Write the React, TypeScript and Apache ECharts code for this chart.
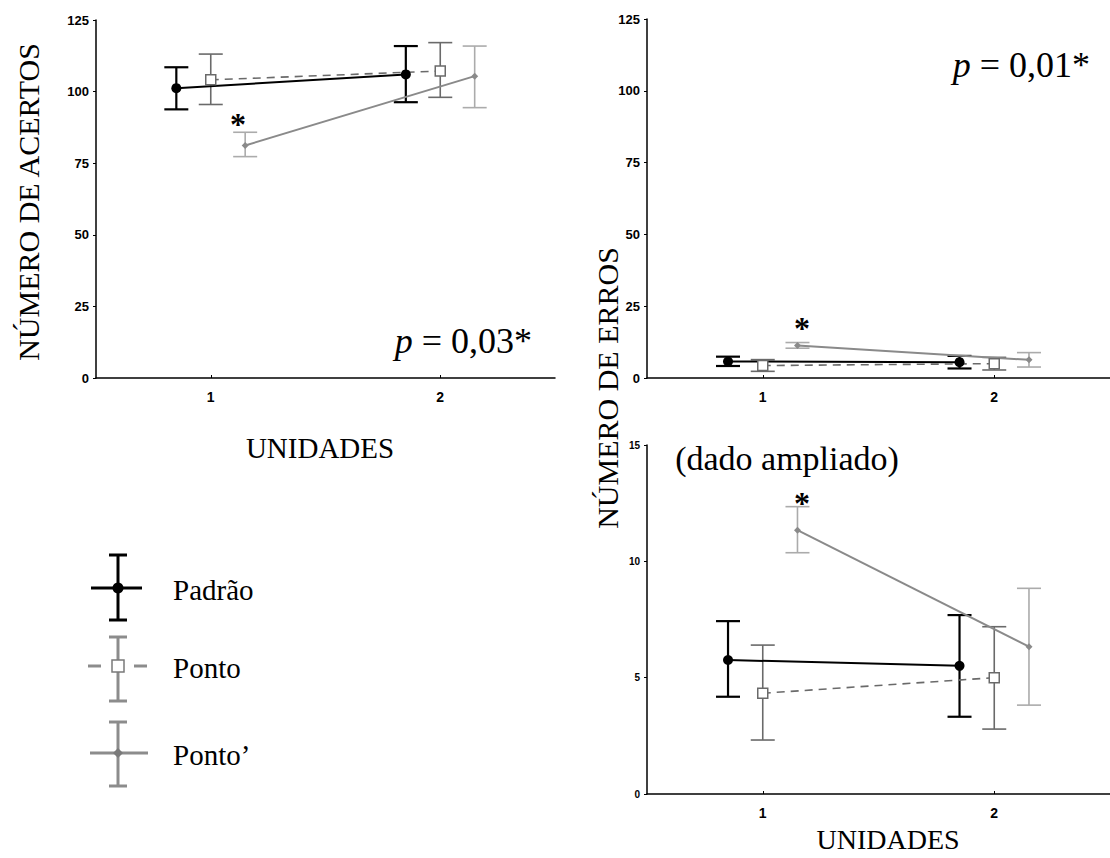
import React, { useEffect, useRef } from 'react';
import * as echarts from 'echarts';

// ---------- data ----------
const units = [1, 2];
const groupNames = ['Padrão', 'Ponto', 'Ponto’'];
const groupOffsets = [-0.15, 0, 0.15];

// Número de acertos (mean, lower, upper)
const acertosPadraoMean = [101.2, 106.0];
const acertosPadraoLow = [93.8, 96.3];
const acertosPadraoHigh = [108.5, 115.9];
const acertosPontoMean = [104.1, 107.2];
const acertosPontoLow = [95.5, 98.0];
const acertosPontoHigh = [113.1, 117.1];
const acertosPontoLinhaMean = [81.2, 105.4];
const acertosPontoLinhaLow = [77.3, 94.4];
const acertosPontoLinhaHigh = [85.8, 115.9];

// Número de erros (mean, lower, upper)
const errosPadraoMean = [5.76, 5.51];
const errosPadraoLow = [4.18, 3.32];
const errosPadraoHigh = [7.43, 7.69];
const errosPontoMean = [4.33, 5.0];
const errosPontoLow = [2.32, 2.79];
const errosPontoHigh = [6.4, 7.19];
const errosPontoLinhaMean = [11.34, 6.33];
const errosPontoLinhaLow = [10.37, 3.82];
const errosPontoLinhaHigh = [12.35, 8.84];

const pAcertos = '0,03*';
const pErros = '0,01*';

const SERIF = '"Liberation Serif", "Times New Roman", serif';
const SANS = '"Liberation Sans", Arial, sans-serif';

const C_PADRAO = '#000000';
const C_PONTO = '#6a6a6a';
const C_PONTOL_LINE = '#8a8a8a';
const C_PONTOL_BAR = '#ababab';

const xsFor = (g: number) => units.map((u) => u + groupOffsets[g]);

function errBars(axis: number, g: number, lo: number[], hi: number[], color: string, width: number) {
  const xs = xsFor(g);
  return {
    type: 'custom',
    name: groupNames[g] + ' IC',
    xAxisIndex: axis,
    yAxisIndex: axis,
    data: xs.map((x, i) => [x, lo[i], hi[i]]),
    encode: { x: 0, y: [1, 2] },
    z: 2,
    silent: true,
    renderItem: (_p: any, api: any) => {
      const x = api.value(0);
      const a = api.coord([x, api.value(2)]);
      const b = api.coord([x, api.value(1)]);
      const hw = 12;
      const st = { stroke: color, lineWidth: width, fill: null };
      return {
        type: 'group',
        children: [
          { type: 'line', shape: { x1: a[0], y1: a[1], x2: b[0], y2: b[1] }, style: st },
          { type: 'line', shape: { x1: a[0] - hw, y1: a[1], x2: a[0] + hw, y2: a[1] }, style: st },
          { type: 'line', shape: { x1: b[0] - hw, y1: b[1], x2: b[0] + hw, y2: b[1] }, style: st },
        ],
      };
    },
  };
}

function meanLine(axis: number, g: number, ys: number[]) {
  const xs = xsFor(g);
  const data = xs.map((x, i) => [x, ys[i]]);
  const base: any = {
    type: 'line',
    name: groupNames[g],
    xAxisIndex: axis,
    yAxisIndex: axis,
    data,
    z: 5,
    silent: true,
  };
  if (g === 0) {
    return { ...base, symbol: 'circle', symbolSize: 10, itemStyle: { color: C_PADRAO }, lineStyle: { color: C_PADRAO, width: 2 } };
  }
  if (g === 1) {
    return {
      ...base,
      symbol: 'rect',
      symbolSize: 10,
      itemStyle: { color: '#ffffff', borderColor: C_PONTO, borderWidth: 1.5 },
      lineStyle: { color: C_PONTO, width: 1.6, type: [8, 6] },
    };
  }
  return { ...base, symbol: 'diamond', symbolSize: 7, itemStyle: { color: C_PONTOL_LINE }, lineStyle: { color: C_PONTOL_LINE, width: 2 } };
}

function xAxisFor(grid: number, labelSize: number) {
  return {
    type: 'value',
    gridIndex: grid,
    min: 0.5,
    max: 2.5,
    interval: 0.5,
    splitLine: { show: false },
    axisLine: { show: true, onZero: false, lineStyle: { color: '#000', width: 1.5 } },
    axisTick: { show: true, inside: true, length: 3, customValues: units, lineStyle: { color: '#000' } },
    axisLabel: {
      customValues: units,
      formatter: (v: number) => (Number.isInteger(v) ? String(v) : ''),
      fontFamily: SANS,
      fontWeight: 'bold',
      fontSize: labelSize,
      color: '#000',
      margin: 12,
    },
  };
}

function yAxisFor(grid: number, max: number, interval: number, labelSize: number) {
  return {
    type: 'value',
    gridIndex: grid,
    min: 0,
    max,
    interval,
    splitLine: { show: false },
    axisLine: { show: true, lineStyle: { color: '#000', width: 1.5 } },
    axisTick: { show: true, length: 3, lineStyle: { color: '#000' } },
    axisLabel: { fontFamily: SANS, fontWeight: 'bold', fontSize: labelSize, color: '#000', margin: 7 },
  };
}

function txt(x: number, y: number, text: string, size: number, extra: any = {}) {
  return {
    type: 'text',
    x,
    y,
    ...extra.el,
    style: {
      text,
      fontFamily: SERIF,
      fontSize: size,
      fill: '#000',
      align: 'center',
      verticalAlign: 'middle',
      ...extra.style,
    },
  };
}

function pText(xRight: number, y: number, val: string) {
  return {
    type: 'text',
    x: xRight,
    y,
    style: {
      text: '{i|p}{n| = ' + val + '}',
      align: 'right',
      verticalAlign: 'middle',
      rich: {
        i: { fontFamily: SERIF, fontStyle: 'italic', fontSize: 36, fill: '#000' },
        n: { fontFamily: SERIF, fontSize: 36, fill: '#000' },
      },
    },
  };
}

function star(x: number, y: number) {
  return txt(x, y, '*', 32, { style: { fontWeight: 'bold' } });
}

function legendItem(cy: number, top: number, bottom: number, g: number) {
  const cx = 118;
  const color = g === 0 ? '#000' : '#8c8c8c';
  const st = { stroke: color, lineWidth: 3 };
  const kids: any[] = [
    { type: 'line', shape: { x1: cx, y1: top, x2: cx, y2: bottom }, style: st },
    { type: 'line', shape: { x1: cx - 9, y1: top, x2: cx + 9, y2: top }, style: st },
    { type: 'line', shape: { x1: cx - 9, y1: bottom, x2: cx + 9, y2: bottom }, style: st },
  ];
  if (g === 0) {
    kids.push({ type: 'line', shape: { x1: cx - 27, y1: cy, x2: cx + 24, y2: cy }, style: st });
    kids.push({ type: 'circle', shape: { cx, cy, r: 5.5 }, style: { fill: '#000' } });
  } else if (g === 1) {
    kids.push({ type: 'line', shape: { x1: cx - 30, y1: cy, x2: cx - 17, y2: cy }, style: st });
    kids.push({ type: 'line', shape: { x1: cx + 16, y1: cy, x2: cx + 29, y2: cy }, style: st });
    kids.push({ type: 'rect', shape: { x: cx - 6, y: cy - 6, width: 12, height: 12 }, style: { fill: '#fff', stroke: '#7a7a7a', lineWidth: 1.5 } });
  } else {
    kids.push({ type: 'line', shape: { x1: cx - 28, y1: cy, x2: cx + 30, y2: cy }, style: st });
    kids.push({ type: 'polygon', shape: { points: [[cx, cy - 5], [cx + 5, cy], [cx, cy + 5], [cx - 5, cy]] }, style: { fill: '#7a7a7a' } });
  }
  kids.push({
    type: 'text',
    x: 173,
    y: cy + 2,
    style: { text: groupNames[g], fontFamily: SERIF, fontSize: 29, fill: '#000', align: 'left', verticalAlign: 'middle' },
  });
  return { type: 'group', children: kids };
}

export default function App() {
  const ref = useRef<HTMLDivElement>(null);
  useEffect(() => {
    if (!ref.current) return;
    const chart = echarts.init(ref.current, null, { renderer: 'svg' });
    const option: any = {
      animation: false,
      backgroundColor: '#ffffff',
      grid: [
        { left: 96, top: 20, width: 459, height: 358 },
        { left: 647, top: 19, width: 474, height: 359 },
        { left: 647, top: 445, width: 474, height: 349 },
      ],
      xAxis: [xAxisFor(0, 14), xAxisFor(1, 14), xAxisFor(2, 14)],
      yAxis: [yAxisFor(0, 125, 25, 13), yAxisFor(1, 125, 25, 13), yAxisFor(2, 15, 5, 10)],
      series: [
        errBars(0, 0, acertosPadraoLow, acertosPadraoHigh, C_PADRAO, 2.2),
        errBars(0, 1, acertosPontoLow, acertosPontoHigh, C_PONTO, 1.6),
        errBars(0, 2, acertosPontoLinhaLow, acertosPontoLinhaHigh, C_PONTOL_BAR, 1.6),
        meanLine(0, 0, acertosPadraoMean),
        meanLine(0, 1, acertosPontoMean),
        meanLine(0, 2, acertosPontoLinhaMean),

        errBars(1, 0, errosPadraoLow, errosPadraoHigh, C_PADRAO, 2.2),
        errBars(1, 1, errosPontoLow, errosPontoHigh, C_PONTO, 1.6),
        errBars(1, 2, errosPontoLinhaLow, errosPontoLinhaHigh, C_PONTOL_BAR, 1.6),
        meanLine(1, 0, errosPadraoMean),
        meanLine(1, 1, errosPontoMean),
        meanLine(1, 2, errosPontoLinhaMean),

        errBars(2, 0, errosPadraoLow, errosPadraoHigh, C_PADRAO, 2.2),
        errBars(2, 1, errosPontoLow, errosPontoHigh, C_PONTO, 1.6),
        errBars(2, 2, errosPontoLinhaLow, errosPontoLinhaHigh, C_PONTOL_BAR, 1.6),
        meanLine(2, 0, errosPadraoMean),
        meanLine(2, 1, errosPontoMean),
        meanLine(2, 2, errosPontoLinhaMean),
      ],
      graphic: [
        txt(28, 202, 'NÚMERO DE ACERTOS', 30, { el: { rotation: Math.PI / 2 } }),
        txt(607, 388, 'NÚMERO DE ERROS', 30, { el: { rotation: Math.PI / 2 } }),
        txt(320, 448, 'UNIDADES', 29),
        txt(888, 839, 'UNIDADES', 28),
        txt(787, 458, '(dado ampliado)', 34),
        pText(532, 341, pAcertos),
        pText(1090, 65, pErros),
        star(238, 124),
        star(802, 328),
        star(802, 503),
        legendItem(588, 555, 620, 0),
        legendItem(666, 637, 701, 1),
        legendItem(753, 722, 786, 2),
      ],
    };
    chart.setOption(option);
    return () => chart.dispose();
  }, []);
  return <div ref={ref} style={{ position: 'absolute', left: 0, top: 0, width: 1110, height: 858 }} />;
}
